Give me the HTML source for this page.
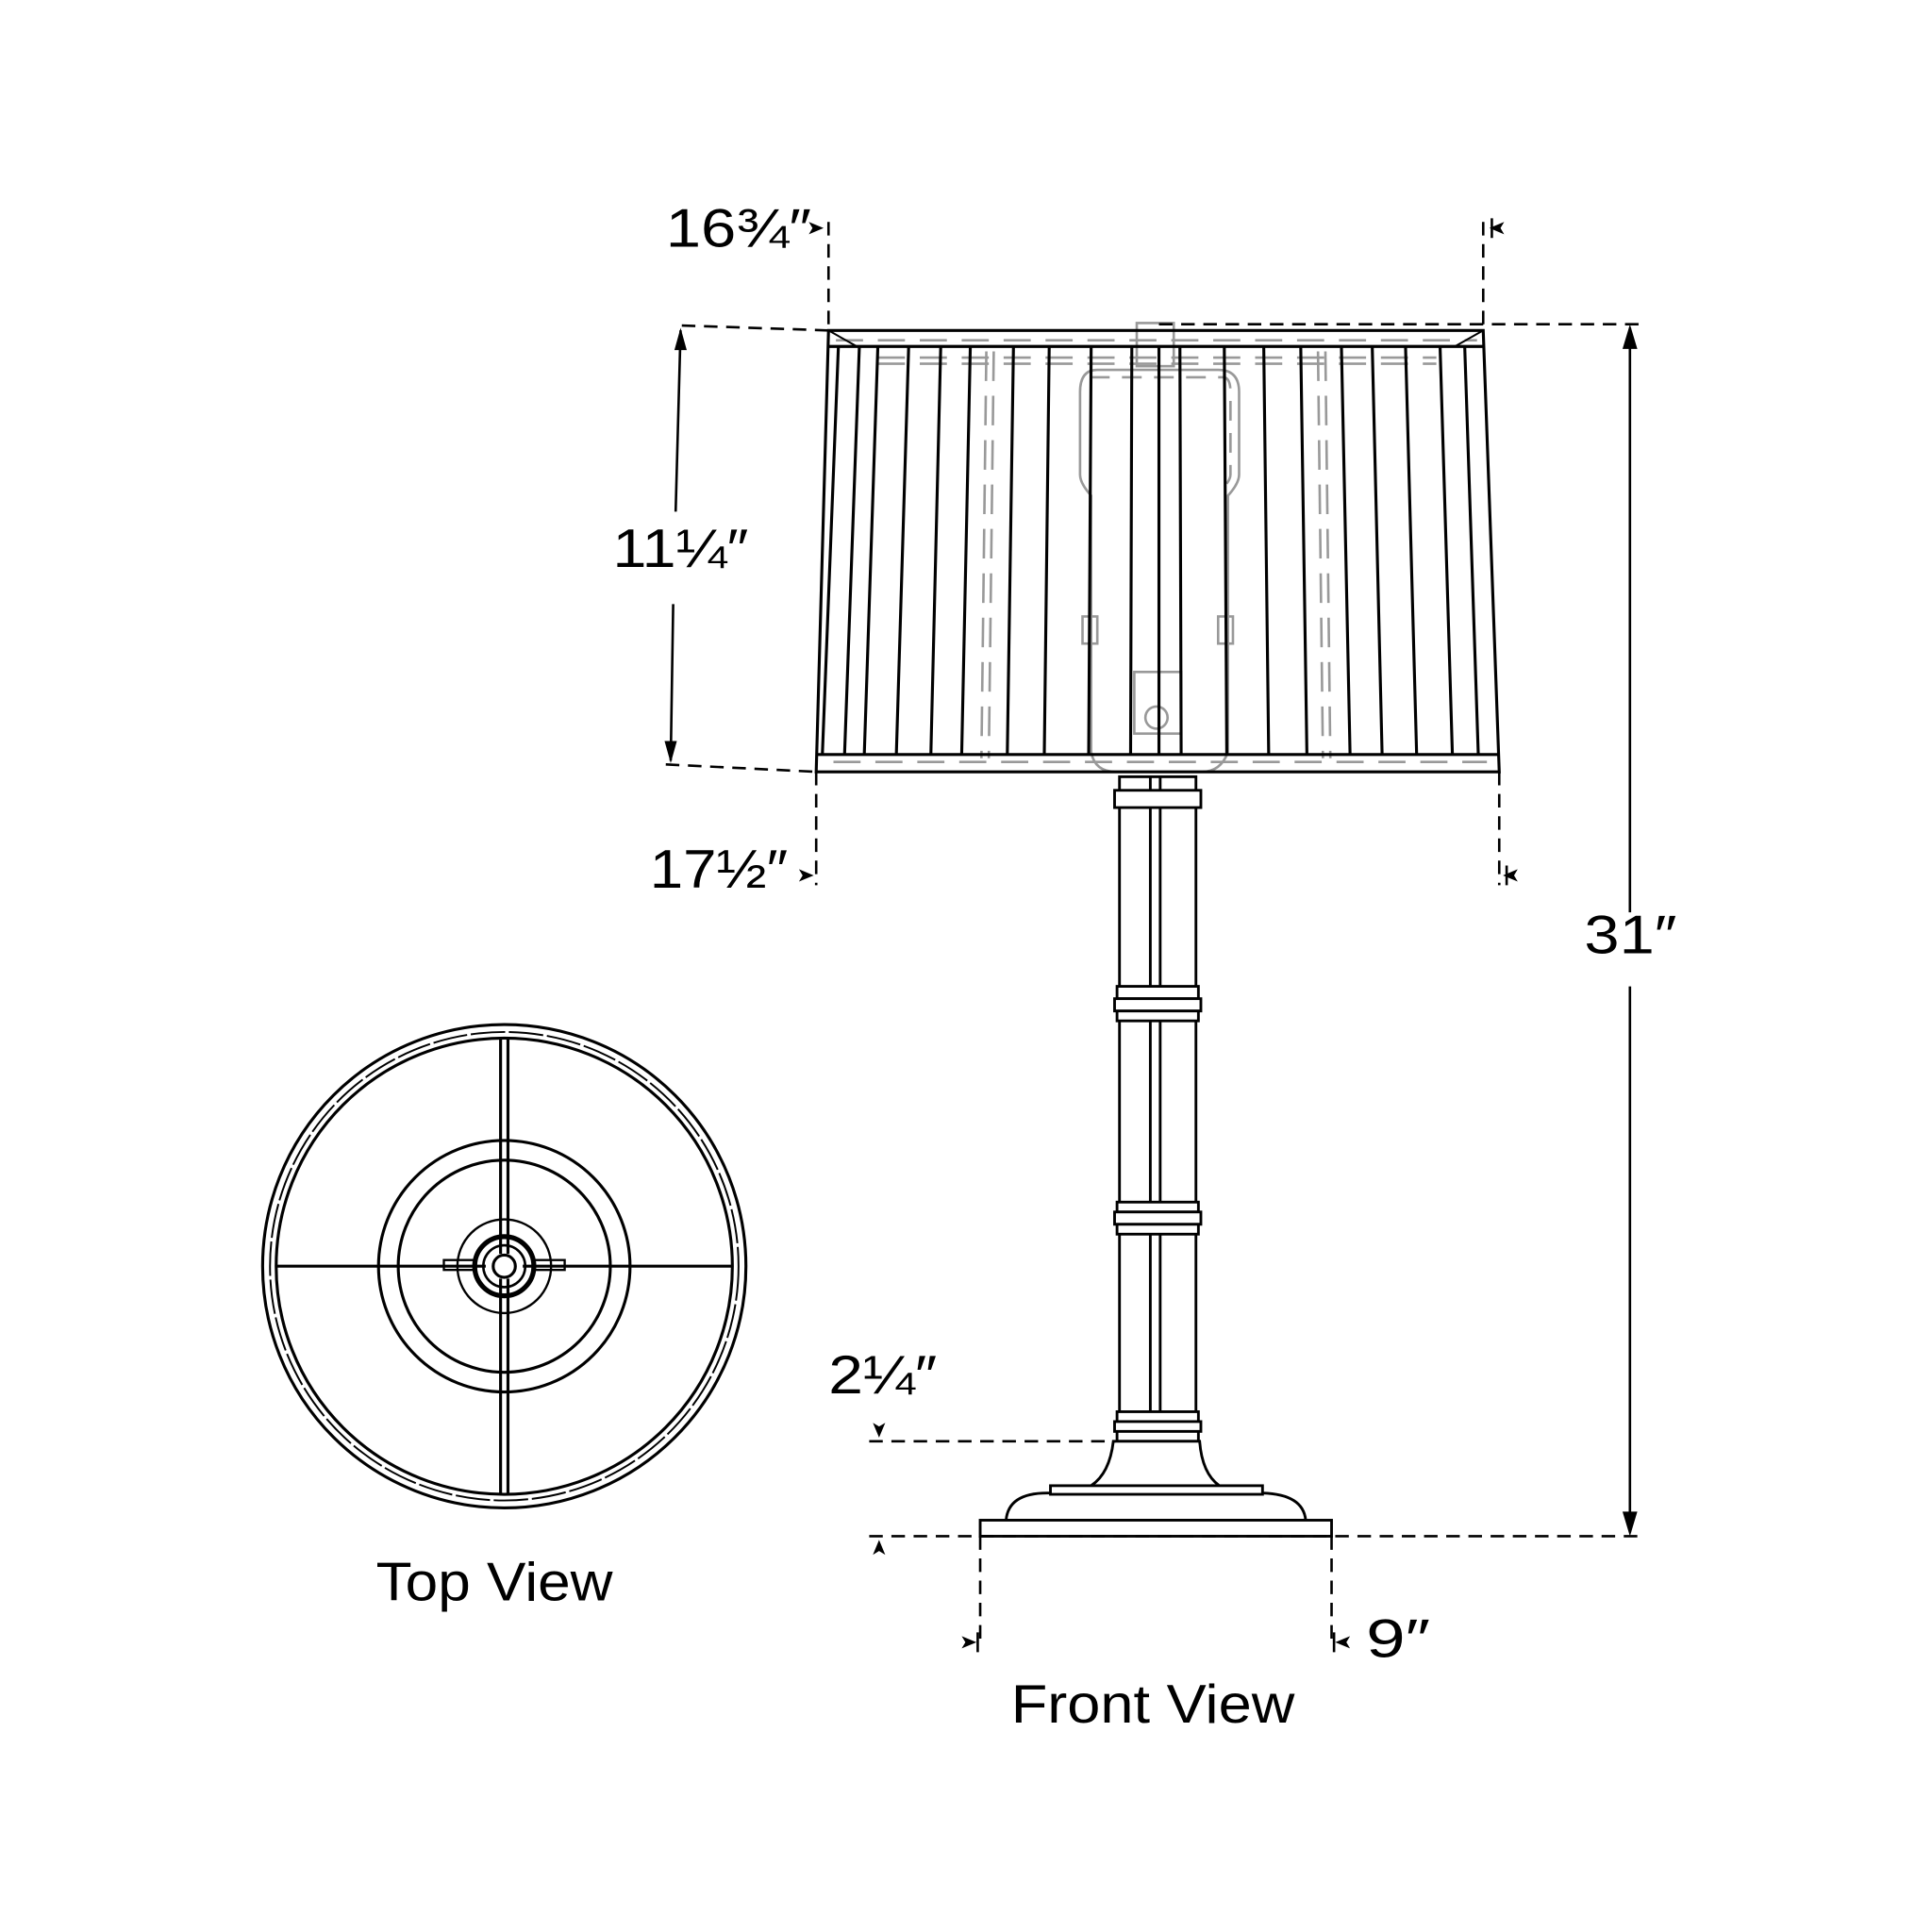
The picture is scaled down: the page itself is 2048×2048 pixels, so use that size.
<!DOCTYPE html>
<html><head><meta charset="utf-8"><style>html,body{margin:0;padding:0;background:#fff}svg{display:block}</style></head>
<body>
<svg width="2048" height="2048" viewBox="0 0 1567 1567" xmlns="http://www.w3.org/2000/svg" font-family="Liberation Sans, sans-serif">
<rect width="1567" height="1567" fill="#fff"/>
<g stroke="#999" stroke-width="2" fill="none">
  <path d="M678 276 H1198" stroke-dasharray="22 12"/>
  <path d="M712 290 H1165" stroke-dasharray="22 12"/>
  <path d="M712 295 H1165" stroke-dasharray="22 12"/>
  <path d="M676 618 H1206" stroke-dasharray="22 12"/>
  <path d="M800 285 L796 615 M806 285 L802 615 M1069 285 L1073 615 M1075 285 L1079 615" stroke-dasharray="24 12"/>
  <path d="M890 300 H988 Q1005 300 1005 318 V385 Q1005 392 996 402 V610 Q990 626 975 626 H905 Q888 626 885 610 V402 Q876 392 876 385 V318 Q876 300 890 300Z"/>
  <path d="M884 306 H992 Q998 306 998 318 V385 Q998 390 990 398" stroke-dasharray="16 10"/>
  <rect x="878" y="500" width="12" height="22"/><rect x="988" y="500" width="12" height="22"/>
  <rect x="920" y="545" width="38" height="50"/><circle cx="938" cy="582" r="9"/>
  <rect x="922" y="262" width="30" height="35"/>
</g>
<g stroke="#000" stroke-width="2.4" fill="none">
  <path d="M672 268 H1203 L1216 626 H662 Z"/>
  <path d="M672 281 H1203 M662 612 H1216"/>
  <path d="M672 268 L695 281 M1203 268 L1180 281" stroke-width="1.5"/>
  <path d="M680 281 L667 612 M697 281 L685 612 M712 281 L701 612 M737 281 L727 612 M763 281 L755 612 M787 281 L780 612 M822 281 L817 612 M851 281 L847 612 M885 281 L883 612 M918 281 L917 612 M940 281 L940 612 M957 281 L958 612 M993 281 L995 612 M1025 281 L1029 612 M1055 281 L1060 612 M1088 281 L1095 612 M1113 281 L1121 612 M1140 281 L1149 612 M1168 281 L1178 612 M1188 281 L1199 612"/>
</g>
<g stroke="#000" stroke-width="2.2" fill="#fff">
  <rect x="908" y="630" width="62" height="540"/>
  <path d="M933 630 V1170 M941 630 V1170" fill="none"/>
  <rect x="904" y="641" width="70" height="14"/>
  <rect x="906" y="800" width="66" height="10"/><rect x="904" y="810" width="70" height="10"/><rect x="906" y="820" width="66" height="8"/>
  <rect x="906" y="975" width="66" height="8"/><rect x="904" y="983" width="70" height="10"/><rect x="906" y="993" width="66" height="8"/>
  <rect x="906" y="1145" width="66" height="8"/><rect x="904" y="1153" width="70" height="8"/><rect x="906" y="1161" width="66" height="8"/>
  <path d="M903 1169 H973 Q975 1195 989 1205 H885 Q900 1195 903 1169Z"/>
  <path d="M816 1233 Q818 1210 852 1211 H1024 Q1057 1212 1059 1233 Z"/>
  <rect x="852" y="1205" width="172" height="7"/>
  <rect x="795" y="1233" width="285" height="13"/>
</g>
<g stroke="#000" stroke-width="2.4" fill="none">
  <circle cx="409" cy="1027" r="196"/>
  <circle cx="409" cy="1027" r="190" stroke-dasharray="28 3" stroke-width="1.5"/>
  <circle cx="409" cy="1027" r="185"/>
  <circle cx="409" cy="1027" r="102"/>
  <circle cx="409" cy="1027" r="86"/>
  <circle cx="409" cy="1027" r="38" stroke-width="1.8"/>
  <circle cx="409" cy="1027" r="24" stroke-width="4"/>
  <circle cx="409" cy="1027" r="17" stroke-width="2"/>
  <circle cx="409" cy="1027" r="9" fill="#fff"/>
  <path d="M224 1027 H394 M424 1027 H594 M406 842 V1017 M412 842 V1017 M406 1037 V1212 M412 1037 V1212"/>
  <rect x="360" y="1022" width="26" height="8" stroke-width="1.8"/>
  <rect x="432" y="1022" width="26" height="8" stroke-width="1.8"/>
</g>
<g stroke="#000" stroke-width="2" fill="none">
  <path d="M672 180 V268 M1203 180 V268 M662 626 V718 M1216 626 V718 M553 264 L672 268 M540 620 L662 626 M940 263 H1330 M705 1246 H1330 M705 1169 H905 M795 1246 V1335 M1080 1246 V1335" stroke-dasharray="11 7"/>
  <path d="M552 268 L548 415 M546 490 L544 617 M1322 266 V740 M1322 800 V1243"/>
</g>
<g fill="#000">
  <path d="M552 266 L547 284 L557 284Z"/><path d="M544 619 L539 601 L549 601Z"/>
  <path d="M1322 263 L1316 283 L1328 283Z"/><path d="M1322 1246 L1316 1226 L1328 1226Z"/>
  <path d="M668 185 L656 180 L659 185 L656 190Z"/>
  <path d="M1208 185 L1220 180 L1217 185 L1220 190Z"/>
  <path d="M660 710 L648 705 L651 710 L648 715Z"/>
  <path d="M1219 710 L1231 705 L1228 710 L1231 715Z"/>
  <path d="M713 1166 L708 1154 L713 1157 L718 1154Z"/>
  <path d="M713 1249 L708 1261 L713 1258 L718 1261Z"/>
  <path d="M792 1332 L780 1327 L783 1332 L780 1337Z"/>
  <path d="M1083 1332 L1095 1327 L1092 1332 L1095 1337Z"/>
</g>
<g stroke="#000" stroke-width="2"><path d="M1210 177 V193 M1222 702 V718 M1082 1324 V1340 M793 1324 V1340"/></g>
<g font-size="44" fill="#000">
  <text x="540" y="200" textLength="118" lengthAdjust="spacingAndGlyphs">16¾″</text>
  <text x="497" y="460" textLength="110" lengthAdjust="spacingAndGlyphs">11¼″</text>
  <text x="527" y="720" textLength="112" lengthAdjust="spacingAndGlyphs">17½″</text>
  <text x="1285" y="773" textLength="75" lengthAdjust="spacingAndGlyphs">31″</text>
  <text x="672" y="1130" textLength="88" lengthAdjust="spacingAndGlyphs">2¼″</text>
  <text x="1108" y="1344" textLength="52" lengthAdjust="spacingAndGlyphs">9″</text>
  <text x="305" y="1298" textLength="192" lengthAdjust="spacingAndGlyphs">Top View</text>
  <text x="820" y="1397" textLength="230" lengthAdjust="spacingAndGlyphs">Front View</text>
</g>
</svg>
</body></html>
